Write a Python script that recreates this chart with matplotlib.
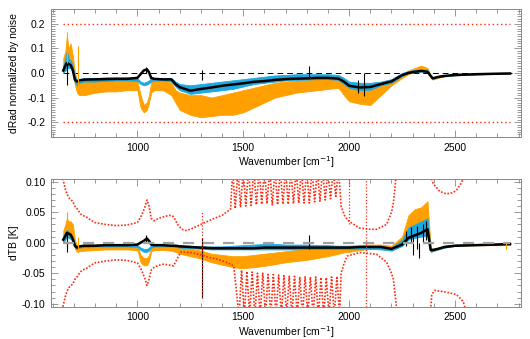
import numpy as np
import matplotlib
matplotlib.use("Agg")
import matplotlib.pyplot as plt
from matplotlib.ticker import MultipleLocator

plt.rcParams['font.family'] = ['Liberation Sans', 'DejaVu Sans']
plt.rcParams['font.size'] = 7.5

# common wavenumber grid [cm-1]
wn = [650, 660, 667, 675, 685, 695, 705, 715, 725, 750,
      800, 850, 900, 950, 1000, 1015, 1030, 1045, 1055, 1065,
      1080, 1120, 1160, 1180, 1200, 1250, 1300, 1350, 1400, 1450,
      1500, 1550, 1600, 1650, 1700, 1750, 1800, 1850, 1900, 1950,
      1975, 2000, 2050, 2100, 2150, 2200, 2250, 2280, 2310, 2340,
      2370, 2385, 2395, 2420, 2450, 2500, 2600, 2700, 2760]

# ---- top panel: dRad normalized by noise (envelopes hi / lo)
rad_orange_hi = [0.06, 0.09, 0.15, 0.10, 0.12, 0.07, 0.0, -0.03, -0.03, -0.03,
                 -0.025, -0.025, -0.025, -0.025, -0.03, -0.09, -0.13, -0.12, -0.09, -0.04,
                 -0.03, -0.03, -0.04, -0.07, -0.08, -0.09, -0.09, -0.10, -0.09, -0.08,
                 -0.07, -0.06, -0.05, -0.04, -0.035, -0.03, -0.03, -0.025, -0.025, -0.025,
                 -0.035, -0.05, -0.06, -0.055, -0.045, -0.03, -0.005, 0.01, 0.02, 0.03,
                 0.02, -0.01, -0.018, -0.013, -0.01, -0.007, -0.004, -0.002, -0.001]
rad_orange_lo = [0.0, 0.02, 0.03, 0.03, 0.03, 0.01, -0.05, -0.08, -0.09, -0.09,
                 -0.08, -0.075, -0.075, -0.07, -0.07, -0.14, -0.16, -0.15, -0.12, -0.08,
                 -0.07, -0.07, -0.09, -0.12, -0.15, -0.17, -0.18, -0.175, -0.17, -0.17,
                 -0.16, -0.14, -0.12, -0.10, -0.09, -0.08, -0.075, -0.07, -0.065, -0.06,
                 -0.09, -0.115, -0.125, -0.13, -0.09, -0.05, -0.02, -0.005, 0.005, 0.01,
                 0.005, -0.02, -0.027, -0.02, -0.014, -0.01, -0.006, -0.004, -0.003]
rad_cyan_hi = [0.03, 0.06, 0.09, 0.06, 0.05, 0.03, -0.01, -0.03, -0.025, -0.02,
               -0.02, -0.018, -0.018, -0.018, -0.022, -0.035, -0.04, -0.035, -0.03, -0.022,
               -0.02, -0.02, -0.02, -0.035, -0.045, -0.05, -0.045, -0.04, -0.035, -0.03,
               -0.025, -0.02, -0.015, -0.01, -0.008, -0.005, -0.005, -0.005, -0.005, -0.008,
               -0.02, -0.035, -0.04, -0.04, -0.035, -0.025, 0.0, 0.008, 0.012, 0.015,
               0.012, -0.008, -0.018, -0.012, -0.009, -0.006, -0.003, -0.001, 0.0]
rad_cyan_lo = [0.0, 0.01, 0.02, 0.02, 0.02, 0.0, -0.04, -0.05, -0.04, -0.035,
               -0.035, -0.032, -0.03, -0.03, -0.032, -0.045, -0.05, -0.047, -0.042, -0.035,
               -0.03, -0.03, -0.035, -0.055, -0.07, -0.085, -0.08, -0.075, -0.07, -0.065,
               -0.055, -0.045, -0.04, -0.035, -0.03, -0.028, -0.027, -0.025, -0.025, -0.028,
               -0.045, -0.06, -0.07, -0.068, -0.05, -0.04, -0.012, 0.0, 0.003, 0.006,
               0.003, -0.015, -0.023, -0.017, -0.013, -0.01, -0.006, -0.003, -0.002]
rad_black = [0.01, 0.03, 0.04, 0.037, 0.032, 0.012, -0.028, -0.035, -0.03, -0.027,
             -0.026, -0.025, -0.024, -0.024, -0.02, -0.005, 0.01, 0.015, 0.003, -0.02,
             -0.024, -0.026, -0.026, -0.045, -0.058, -0.072, -0.065, -0.059, -0.052, -0.047,
             -0.042, -0.036, -0.033, -0.028, -0.025, -0.023, -0.022, -0.02, -0.02, -0.023,
             -0.035, -0.052, -0.059, -0.057, -0.045, -0.034, -0.009, 0.0, 0.005, 0.008,
             0.005, -0.012, -0.022, -0.016, -0.012, -0.008, -0.005, -0.003, -0.002]

# isolated spectral spikes: wavenumber, low, high
rad_spikes_orange = [(667, 0.03, 0.166), (720, -0.06, 0.11)]
rad_spikes_black = [(667, -0.05, 0.04), (1306, -0.03, 0.012), (1812, -0.02, 0.03),
                    (1040, 0.0, 0.024), (2040, -0.08, -0.03), (2070, -0.095, 0.0)]

# ---- bottom panel: dTB [K]
tb_orange_hi = [0.02, 0.03, 0.04, 0.035, 0.035, 0.03, 0.005, -0.005, -0.004, -0.003,
                -0.003, -0.003, -0.003, -0.003, -0.004, -0.02, -0.025, -0.025, -0.02, -0.008,
                -0.004, -0.004, -0.005, -0.006, -0.008, -0.01, -0.013, -0.018, -0.02, -0.022,
                -0.022, -0.02, -0.018, -0.016, -0.014, -0.012, -0.01, -0.008, -0.007, -0.005,
                -0.005, -0.005, -0.004, -0.003, -0.003, -0.005, 0.01, 0.045, 0.055, 0.058,
                0.068, -0.008, -0.01, -0.008, -0.005, -0.003, -0.002, -0.002, -0.002]
tb_orange_lo = [0.0, 0.01, 0.015, 0.012, 0.012, 0.008, -0.01, -0.015, -0.014, -0.013,
                -0.012, -0.011, -0.011, -0.011, -0.012, -0.032, -0.037, -0.037, -0.03, -0.014,
                -0.012, -0.012, -0.013, -0.015, -0.018, -0.022, -0.026, -0.032, -0.036, -0.04,
                -0.042, -0.04, -0.038, -0.035, -0.032, -0.03, -0.028, -0.025, -0.022, -0.018,
                -0.016, -0.015, -0.012, -0.01, -0.01, -0.012, -0.005, 0.012, 0.015, 0.018,
                0.02, -0.014, -0.013, -0.011, -0.008, -0.005, -0.004, -0.004, -0.004]
tb_cyan_hi = [0.012, 0.018, 0.022, 0.018, 0.015, 0.01, -0.002, -0.006, -0.004, -0.003,
              -0.003, -0.003, -0.003, -0.003, -0.004, -0.008, -0.01, -0.01, -0.008, -0.004,
              -0.003, -0.003, -0.003, -0.003, -0.004, -0.005, -0.006, -0.006, -0.006, -0.005,
              -0.004, -0.003, -0.002, -0.002, -0.003, -0.003, -0.003, -0.004, -0.004, -0.005,
              -0.005, -0.005, -0.005, -0.005, -0.006, -0.008, 0.005, 0.025, 0.03, 0.035,
              0.04, -0.01, -0.01, -0.008, -0.005, -0.003, -0.002, -0.001, -0.001]
tb_cyan_lo = [0.0, 0.005, 0.01, 0.008, 0.006, 0.002, -0.008, -0.01, -0.008, -0.007,
              -0.006, -0.006, -0.006, -0.006, -0.007, -0.012, -0.015, -0.015, -0.013, -0.008,
              -0.006, -0.006, -0.006, -0.007, -0.008, -0.009, -0.01, -0.011, -0.011, -0.011,
              -0.011, -0.011, -0.011, -0.011, -0.011, -0.011, -0.01, -0.01, -0.01, -0.01,
              -0.01, -0.01, -0.01, -0.01, -0.011, -0.013, -0.005, 0.005, 0.008, 0.01,
              0.012, -0.015, -0.014, -0.011, -0.008, -0.005, -0.003, -0.003, -0.003]
tb_black = [0.005, 0.011, 0.016, 0.015, 0.013, 0.006, -0.005, -0.008, -0.006, -0.005,
            -0.005, -0.004, -0.004, -0.004, -0.003, 0.0, 0.003, 0.007, 0.003, -0.003,
            -0.004, -0.004, -0.005, -0.005, -0.006, -0.007, -0.008, -0.009, -0.009, -0.009,
            -0.009, -0.009, -0.008, -0.008, -0.008, -0.008, -0.008, -0.008, -0.008, -0.008,
            -0.008, -0.008, -0.007, -0.007, -0.007, -0.01, -0.003, 0.008, 0.012, 0.016,
            0.022, -0.012, -0.012, -0.01, -0.007, -0.005, -0.004, -0.003, -0.002]

tb_spikes_orange = [(667, 0.0, 0.05), (720, -0.015, 0.01), (2740, -0.01, 0.0)]
tb_spikes_black = [(667, -0.015, 0.02), (1306, -0.09, 0.008), (1812, -0.01, 0.012),
                   (1040, 0.0, 0.012), (2270, -0.005, 0.02), (2290, 0.0, 0.025),
                   (2300, -0.02, 0.01), (2320, -0.01, 0.028), (2330, -0.025, 0.0),
                   (2350, 0.0, 0.03), (2365, 0.005, 0.035)]

# noise level bounds (red, dotted); nan = gap where curve leaves the plot
red_hi_wn = [648, 655, 662, 670, 680, 694, 705, 717, 730, 740, 760, 780, 800, 850, 900,
             950, 1000, 1020, 1035, 1045, 1055, 1065, 1080, 1100, 1150, 1170, 1190, 1210,
             1230, 1250, 1300, 1350, 1400, 1440,
             1450, 1462, 1475, 1487, 1500, 1512, 1525, 1537, 1550, 1562, 1575, 1587,
             1600, 1612, 1625, 1637, 1650, 1662, 1675, 1687, 1700, 1712, 1725, 1737,
             1750, 1762, 1775, 1787, 1800, 1812, 1825, 1837, 1850, 1862, 1875, 1887,
             1900, 1912, 1925, 1937, 1950, 1962,
             1980, 2000, 2050, 2100, 2130, 2177, 2200, 2209, 2222, 2300,
             2385, 2397, 2428, 2460, 2490, 2507, 2530, 2545]
red_hi = [0.105, 0.095, 0.085, 0.078, 0.072, 0.068, 0.06, 0.055, 0.048, 0.045, 0.042, 0.037,
          0.033, 0.03, 0.028, 0.029, 0.033, 0.045, 0.058, 0.07, 0.06, 0.04, 0.036, 0.04,
          0.045, 0.043, 0.03, 0.022, 0.02, 0.022, 0.03, 0.038, 0.045, 0.055,
          0.12, 0.056, 0.12, 0.058, 0.12, 0.06, 0.12, 0.061, 0.12, 0.062, 0.12, 0.063,
          0.12, 0.064, 0.12, 0.062, 0.12, 0.062, 0.12, 0.063, 0.12, 0.063, 0.12, 0.064,
          0.12, 0.065, 0.12, 0.065, 0.12, 0.065, 0.12, 0.067, 0.12, 0.068, 0.12, 0.07,
          0.12, 0.072, 0.12, 0.076, 0.12, 0.06,
          0.043, 0.035, 0.024, 0.022, 0.022, 0.03, 0.05, 0.065, 0.11, np.nan,
          0.11, 0.097, 0.084, 0.08, 0.082, 0.086, 0.098, 0.11]
red_lo_wn = [648, 655, 662, 670, 680, 694, 705, 717, 730, 740, 760, 780, 800, 850, 900,
             950, 1000, 1020, 1035, 1045, 1055, 1065, 1080, 1100, 1125, 1170, 1190, 1205,
             1250, 1300, 1350, 1377, 1420, 1455,
             1480, 1492, 1505, 1517, 1530, 1542, 1555, 1567, 1580, 1592, 1605, 1617,
             1630, 1642, 1655, 1667, 1680, 1692, 1705, 1717, 1730, 1742, 1755, 1767,
             1780, 1792, 1805, 1817, 1830, 1842, 1855, 1867, 1880, 1892, 1905, 1917,
             1930, 1942, 1955, 1962,
             1975, 1990, 2050, 2130, 2177, 2200, 2209, 2225, 2300,
             2385, 2390, 2404, 2460, 2507, 2530, 2539, 2550]
red_lo = [-0.105, -0.095, -0.085, -0.078, -0.072, -0.068, -0.06, -0.055, -0.048, -0.045,
          -0.042, -0.037, -0.033, -0.03, -0.028, -0.029, -0.033, -0.045, -0.058, -0.07,
          -0.06, -0.045, -0.04, -0.037, -0.035, -0.038, -0.025, -0.015, -0.016, -0.02,
          -0.025, -0.027, -0.032, -0.038,
          -0.12, -0.045, -0.12, -0.047, -0.12, -0.048, -0.12, -0.05, -0.12, -0.05, -0.12, -0.052,
          -0.12, -0.052, -0.12, -0.053, -0.12, -0.054, -0.12, -0.055, -0.12, -0.055, -0.12, -0.056,
          -0.12, -0.056, -0.12, -0.056, -0.12, -0.056, -0.12, -0.057, -0.12, -0.057, -0.12, -0.056,
          -0.12, -0.055, -0.12, -0.05,
          -0.035, -0.022, -0.016, -0.019, -0.032, -0.05, -0.06, -0.11, np.nan,
          -0.11, -0.085, -0.078, -0.081, -0.085, -0.093, -0.097, -0.11]
red_vlines = [(1306, -0.09, 0.05), (1997, 0.03, 0.11), (2080, -0.11, 0.11)]

ORANGE = '#ffa000'
CYAN = '#1ea8e0'
RED = '#ff2a10'

fig = plt.figure(figsize=(5.30, 3.39), dpi=100)
ax1 = fig.add_axes([0.0962, 0.596, 0.887, 0.3775])
ax2 = fig.add_axes([0.0962, 0.095, 0.887, 0.378])


def bands(ax, series, black, spikes):
    for hi, lo, col in series:
        ax.fill_between(wn, lo, hi, color=col, lw=0.6, edgecolor=col)
    ax.plot(wn, black, color='black', lw=1.8)
    for (pts, col) in spikes:
        for x, a, b in pts:
            ax.vlines(x, a, b, color=col, lw=0.8)


# top panel
ax1.plot([650, 2770], [0, 0], color='black', lw=0.7, ls=(0, (6, 4)), zorder=1)
bands(ax1, [(rad_orange_hi, rad_orange_lo, ORANGE),
            (rad_cyan_hi, rad_cyan_lo, CYAN)], rad_black,
      [(rad_spikes_orange, ORANGE), (rad_spikes_black, 'black')])
for lev in (0.2, -0.2):
    ax1.plot([650, 2760], [lev, lev], color=RED, lw=1.0, ls=(0, (1, 2)))
ax1.set_ylim(-0.26, 0.26)
ax1.set_ylabel('dRad normalized by noise')
ax1.yaxis.set_minor_locator(MultipleLocator(0.01))
ax1.set_yticks([-0.2, -0.1, 0.0, 0.1, 0.2])
ax1.set_yticklabels(['-0.2', '-0.1', '0.0', '0.1', '0.2'])

# bottom panel
bands(ax2, [(tb_orange_hi, tb_orange_lo, ORANGE),
            (tb_cyan_hi, tb_cyan_lo, CYAN)], tb_black,
      [(tb_spikes_orange, ORANGE), (tb_spikes_black, 'black')])
ax2.plot(red_hi_wn, red_hi, color=RED, lw=1.2, ls=(0, (1, 1)))
ax2.plot(red_lo_wn, red_lo, color=RED, lw=1.2, ls=(0, (1, 1)))
for x, a, b in red_vlines:
    ax2.vlines(x, a, b, color=RED, lw=0.9, ls=(0, (1, 1.5)))
ax2.plot([650, 2760], [0, 0], color='#a0a0a0', lw=1.6, ls=(0, (5, 4)), zorder=5)
ax2.set_ylim(-0.105, 0.105)
ax2.set_ylabel('dTB [K]')
ax2.set_yticks([-0.10, -0.05, 0.0, 0.05, 0.10])
ax2.set_yticklabels(['-0.10', '-0.05', '0.00', '0.05', '0.10'])
ax2.yaxis.set_minor_locator(MultipleLocator(0.01))

for ax in (ax1, ax2):
    ax.set_xlim(592, 2812)
    ax.set_xticks([1000, 1500, 2000, 2500])
    ax.xaxis.set_minor_locator(MultipleLocator(100))
    ax.set_xlabel('Wavenumber [cm$^{-1}$]', labelpad=1)
    ax.tick_params(which='both', direction='in', top=True, right=True,
                   color='#888888', labelcolor='black')
    ax.tick_params(which='major', length=5, width=0.6, pad=4)
    ax.tick_params(which='minor', length=3, width=0.6)
    for s in ax.spines.values():
        s.set_color('#888888')
        s.set_linewidth(0.7)
    ax.yaxis.set_label_coords(-0.068, 0.5)

fig.savefig('out.png', dpi=100)
